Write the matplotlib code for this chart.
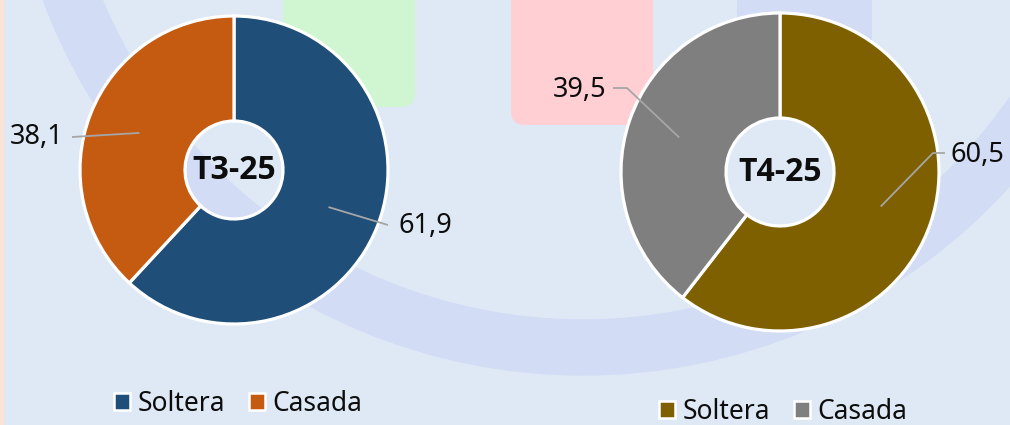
import numpy as np
import matplotlib
matplotlib.use("Agg")
import matplotlib.pyplot as plt
from matplotlib.patches import Patch, Annulus, FancyBboxPatch, Rectangle

# data
categories = ["Soltera", "Casada"]
periods = ["T3-25", "T4-25"]
values_t3 = [61.9, 38.1]
values_t4 = [60.5, 39.5]
colors_t3 = ["#1f4e79", "#c55a11"]
colors_t4 = ["#7f6000", "#7f7f7f"]

W, H = 1010, 425
BG = "#dee9f5"
ARC = "#d3dcf5"
plt.rcParams['font.family'] = ['Noto Sans', 'DejaVu Sans']


def py(y):
    # pixel row (from top) -> data y
    return H - y


fig = plt.figure(figsize=(W / 100, H / 100), dpi=100)
fig.patch.set_facecolor(BG)
ax = fig.add_axes([0, 0, 1, 1])
ax.set_facecolor(BG)

# decorative background shapes
ax.add_patch(Annulus((583, py(-201)), 576, 55, color=ARC, zorder=0))
ax.add_patch(FancyBboxPatch((737, py(110)), 135, 200, boxstyle="round,pad=0,rounding_size=14",
                            color=ARC, lw=0, zorder=0))
ax.add_patch(FancyBboxPatch((283, py(107)), 132, 200, boxstyle="round,pad=0,rounding_size=14",
                            color="#cff5d1", lw=0, zorder=0.5))
ax.add_patch(FancyBboxPatch((511, py(125)), 142, 200, boxstyle="round,pad=0,rounding_size=14",
                            color="#ffcfd3", lw=0, zorder=0.5))
ax.add_patch(Rectangle((0, 0), 4, H, color="#fbe4d6", lw=0, zorder=0.5))


def donut(vals, cols, cx, cy, R, hole, title, label_spec):
    wedges, _ = ax.pie(vals, colors=cols, startangle=90, counterclock=False,
                       radius=R, center=(cx, py(cy)),
                       wedgeprops=dict(width=R - hole, edgecolor="white", linewidth=2.3))
    for w in wedges:
        w.set_zorder(2)
    ax.text(cx, py(cy), title, ha="center", va="center", fontsize=23,
            fontweight="bold", family=["Open Sans", "DejaVu Sans"],
            color="#0d0d0d", zorder=3)
    rmid = (R + hole) / 2
    for w, v, (pts, tx, ty, ha) in zip(wedges, vals, label_spec):
        ang = np.deg2rad((w.theta1 + w.theta2) / 2)
        x0 = cx + rmid * np.cos(ang)
        y0 = py(cy) + rmid * np.sin(ang)
        xs = [x0] + [p[0] for p in pts]
        ys = [y0] + [py(p[1]) for p in pts]
        ax.plot(xs, ys, color="#a6a6a6", lw=1.3, zorder=3, solid_capstyle="butt")
        ax.text(tx, py(ty), f"{v:.1f}".replace(".", ","), ha=ha, va="center",
                fontsize=19.5, color="#0d0d0d", zorder=3)


donut(values_t3, colors_t3, 234, 170, 154, 49, periods[0],
      [([(388, 225)], 398, 226, "left"),
       ([(72, 137)], 64, 137, "right")])
donut(values_t4, colors_t4, 780, 172, 159, 54, periods[1],
      [([(933, 153), (945, 153)], 951, 155, "left"),
       ([(627, 88), (613, 88)], 606, 90, "right")])


def legend(cols, x, y):
    handles = [Patch(facecolor=c, edgecolor="white", linewidth=1.8) for c in cols]
    lg = ax.legend(handles, categories, loc="center", bbox_to_anchor=(x, py(y)),
                   bbox_transform=ax.transData, ncol=2, frameon=False, fontsize=19,
                   handlelength=0.6, handleheight=0.6, handletextpad=0.3,
                   columnspacing=0.9, borderpad=0, borderaxespad=0)
    for t in lg.get_texts():
        t.set_color("#0d0d0d")
    return lg


ax.add_artist(legend(colors_t3, 238, 404))
legend(colors_t4, 783, 412)

ax.set_xlim(0, W)
ax.set_ylim(0, H)
ax.set_aspect("auto")
ax.axis("off")

fig.savefig("out.png", dpi=100, facecolor=BG)
